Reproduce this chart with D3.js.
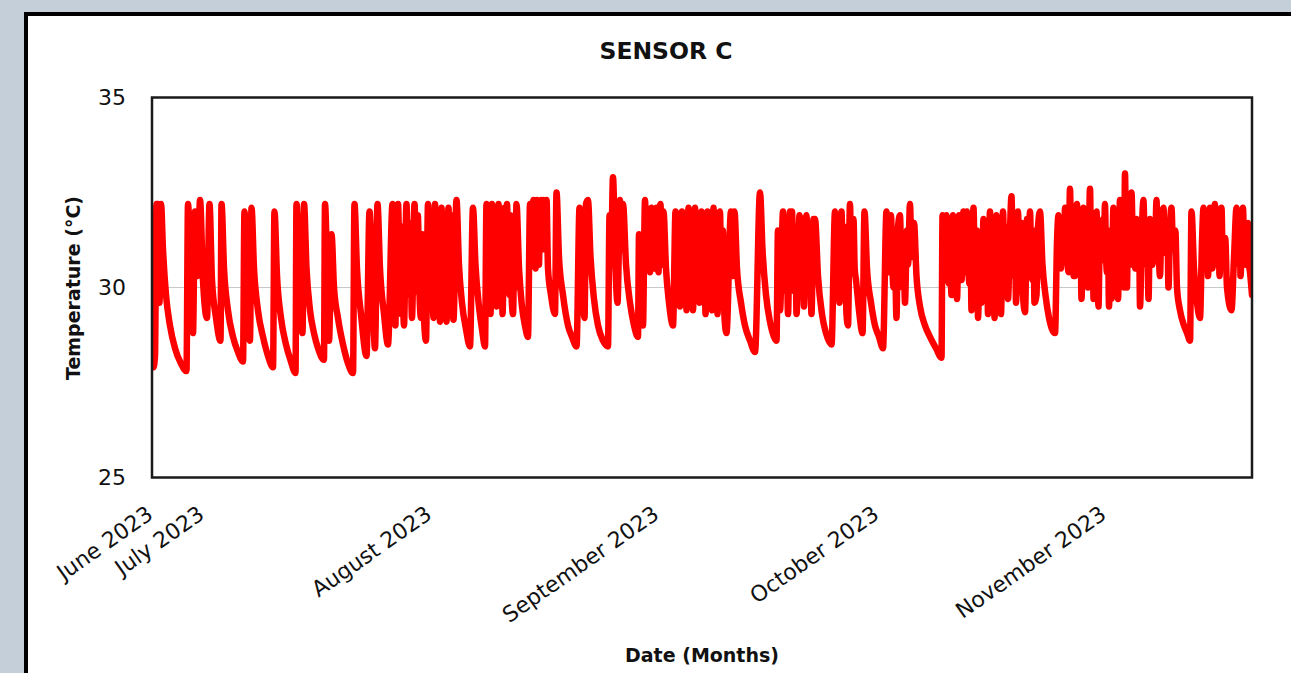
<!DOCTYPE html>
<html><head><meta charset="utf-8">
<script src="https://cdn.jsdelivr.net/npm/d3@7"></script>
<style>html,body{margin:0;padding:0;background:#c5cfd9;overflow:hidden} svg{display:block}</style>
</head><body>
<svg id="chart" width="1291" height="673"></svg>
<script>
// ---- data ----
const chartTitle = "SENSOR C";
const xTitle = "Date (Months)";
const yTitle = "Temperature (°C)";
const startDate = "2023-06-24";
const endDate = "2023-11-21";
const tickDates = ["2023-06-24","2023-07-01","2023-08-01","2023-09-01","2023-10-01","2023-11-01"];
const tickLabels = ["June 2023","July 2023","August 2023","September 2023","October 2023","November 2023"];
const yTicks = [25, 30, 35];
const yGrid = [30];
// [days since start, temperature °C]
const sensorC = [
[0.00,28.3],[0.20,27.9],[0.41,28.2],[0.61,32.2],[0.82,32.2],[1.02,29.6],[1.23,32.2],[1.50,31.0],[1.91,29.8],[2.45,29.0],[3.14,28.4],[3.95,28.0],[4.70,27.8],
[4.91,32.2],[5.32,29.8],[5.59,28.8],[5.86,32.0],[6.20,30.3],[6.55,32.3],[6.95,30.2],[7.50,29.2],[7.84,32.2],[8.18,30.2],[8.73,29.2],[9.34,28.6],
[9.48,32.2],[9.82,30.5],[10.36,29.4],[11.05,28.7],[11.73,28.3],[12.41,28.05],[12.61,32.0],[12.95,30.5],[13.36,28.6],[13.57,32.1],[13.91,30.5],[14.45,29.4],[15.14,28.7],[15.82,28.2],[16.50,27.9],
[16.70,32.0],[17.05,30.3],[17.59,29.2],[18.27,28.5],[18.95,28.05],[19.57,27.75],[19.70,32.2],[20.05,30.5],[20.52,28.8],[20.73,32.2],[21.07,30.5],[21.55,29.4],[22.09,28.8],[22.64,28.4],[23.45,28.1],
[23.59,32.2],[23.93,30.0],[24.14,28.6],[24.48,31.4],[24.82,30.0],[25.36,29.2],[26.05,28.5],[26.73,28.0],[27.41,27.75],[27.61,32.2],[27.95,30.5],[28.50,29.3],[29.25,28.2],
[29.66,32.0],[30.00,30.3],[30.41,28.4],[30.75,32.2],[31.09,30.5],[31.64,29.3],[32.18,28.5],
[32.80,32.2],[33.00,30.4],[33.20,29.0],[33.30,31.8],[33.45,30.2],[33.55,32.2],[33.75,30.4],[33.95,29.3],[34.10,31.6],[34.25,29.6],[34.36,29.0],
[34.70,32.2],[34.90,30.6],[35.11,29.8],[35.20,31.7],[35.35,29.9],[35.45,29.2],[35.80,32.2],[36.00,30.5],[36.14,29.9],[36.25,31.9],[36.45,30.0],[36.68,29.2],[36.85,31.4],[37.05,29.4],[37.36,28.6],
[37.64,32.2],[37.85,30.5],[38.05,29.8],[38.15,31.8],[38.30,29.6],[38.39,29.2],[38.59,32.2],[38.80,30.4],[39.00,29.8],[39.10,31.9],[39.27,29.1],[39.48,32.1],[39.65,30.4],[39.82,29.8],[39.92,31.7],[40.05,29.6],[40.16,29.1],
[40.43,32.1],[40.60,30.4],[40.77,29.9],[40.88,31.9],[41.00,29.7],[41.11,29.15],[41.52,32.3],[41.86,30.6],[42.27,29.6],[42.82,28.9],[43.36,28.45],
[43.77,32.1],[44.11,30.6],[44.59,29.5],[45.00,28.9],[45.41,28.45],
[45.61,32.2],[45.80,30.4],[45.95,29.6],[46.05,31.8],[46.16,29.3],[46.36,32.2],[46.55,30.5],[46.70,29.9],[46.80,31.9],[46.98,29.5],[47.25,32.2],[47.42,30.4],[47.59,29.8],[47.68,31.7],[47.80,29.3],
[48.07,32.1],[48.25,30.6],[48.41,32.2],[48.58,30.5],[48.75,29.8],[48.88,31.9],[49.05,29.7],[49.23,29.3],[49.45,31.6],[49.55,30.0],[49.70,32.2],[50.05,30.5],[50.45,29.5],[50.86,29.0],[51.27,28.7],
[51.55,32.2],[51.70,31.0],[51.82,30.6],[51.92,31.9],[52.02,32.3],[52.15,30.8],[52.30,30.5],[52.40,32.0],[52.50,32.3],[52.65,30.9],[52.77,30.6],[52.90,32.1],[53.05,32.3],[53.20,31.0],[53.30,31.8],[53.39,32.3],[53.50,31.2],[53.59,31.0],[53.80,32.3],
[54.00,30.5],[54.41,29.8],[54.95,29.3],[55.16,32.5],[55.50,30.8],[56.05,29.8],[56.73,29.0],[57.27,28.7],[57.89,28.45],
[58.30,32.1],[58.64,30.2],[58.98,29.2],[59.18,32.2],[59.45,32.3],[59.80,30.8],[60.27,29.7],[60.82,29.0],[61.50,28.6],[62.18,28.45],[62.39,31.9],[62.59,30.6],[62.86,32.9],[63.20,30.5],
[63.48,29.6],[63.82,32.3],[64.00,31.0],[64.23,32.2],[64.64,30.6],[65.18,29.6],[65.73,29.0],[66.27,28.7],[66.41,31.4],[66.68,30.2],[66.95,29.0],
[67.23,32.3],[67.40,31.0],[67.57,30.6],[67.68,32.0],[67.80,30.7],[67.91,30.4],[68.11,32.1],[68.28,30.8],[68.45,30.5],[68.58,32.0],[68.73,32.1],[68.90,30.7],[69.07,30.4],[69.20,32.0],[69.34,32.2],[69.48,30.9],[69.61,30.6],[69.75,32.0],
[70.09,30.5],[70.50,29.6],[71.05,29.0],
[71.39,32.0],[71.55,30.4],[71.73,29.9],[71.82,31.8],[72.00,29.5],[72.27,32.0],[72.45,30.3],[72.61,29.9],[72.70,31.7],[72.89,29.4],[73.16,32.1],[73.33,30.4],[73.50,29.8],[73.60,31.9],[73.77,29.4],
[74.05,32.1],[74.22,30.4],[74.39,29.9],[74.50,31.8],[74.66,29.6],[74.93,32.0],[75.08,30.5],[75.20,29.9],[75.30,31.7],[75.48,29.3],[75.75,32.0],[75.92,30.4],[76.09,29.9],[76.20,31.8],[76.36,29.4],
[76.57,32.1],[76.75,30.5],[76.91,29.9],[77.00,31.6],[77.11,29.3],[77.45,32.0],[77.60,30.6],[77.73,30.2],[77.85,31.5],[78.07,29.2],[78.34,28.8],
[78.95,32.0],[79.23,30.3],[79.43,32.0],[79.77,30.5],[80.32,29.6],[80.86,29.0],[81.55,28.6],[82.23,28.3],
[82.91,32.5],[83.25,31.0],[83.73,29.8],[84.27,29.1],[84.82,28.7],[85.16,28.6],
[85.36,31.5],[85.50,30.0],[85.64,29.4],[86.05,32.0],[86.22,30.5],[86.39,29.9],[86.50,31.7],[86.73,29.3],[87.00,32.0],[87.14,30.8],[87.27,32.0],[87.45,30.5],[87.61,29.9],[87.72,31.6],[87.89,29.3],
[88.30,31.9],[88.47,30.6],[88.64,30.0],[88.75,31.8],[88.91,29.5],[89.25,31.9],[89.42,30.5],[89.59,29.9],[89.70,31.7],[89.93,29.3],[90.20,31.8],[90.30,30.9],[90.41,31.8],
[90.82,30.3],[91.36,29.3],[91.91,28.8],[92.66,28.5],
[93.14,32.0],[93.30,30.6],[93.48,30.0],[93.58,31.8],[93.75,29.6],[94.02,32.0],[94.20,30.5],[94.36,29.9],[94.48,31.6],[94.70,29.3],[94.91,29.0],[95.18,32.2],[95.32,30.9],[95.45,30.5],[95.66,31.8],[95.82,30.5],[96.00,30.2],
[96.41,29.4],[96.89,28.8],
[97.16,32.0],[97.50,30.5],[98.05,29.6],[98.59,29.0],[99.14,28.7],[99.68,28.4],
[100.16,32.0],[100.30,30.8],[100.43,30.4],[100.55,31.6],[100.77,31.9],[100.95,30.6],[101.11,30.0],[101.25,31.5],[101.52,29.2],[101.73,31.6],[102.00,31.9],[102.17,30.6],[102.34,30.0],[102.45,31.4],[102.68,29.6],
[102.95,31.5],[103.10,30.6],[103.36,32.2],[103.55,31.0],[103.70,30.8],[103.91,31.7],[104.25,30.3],[104.73,29.5],[105.41,29.0],[106.09,28.7],[106.91,28.4],[107.66,28.15],
[107.80,31.9],[107.97,30.5],[108.14,30.2],[108.34,31.9],[108.50,30.5],[108.68,30.1],[108.80,31.6],[109.02,29.8],[109.23,31.9],[109.40,30.5],[109.57,30.0],[109.65,31.5],[109.77,29.7],
[110.05,31.9],[110.22,30.6],[110.39,30.2],[110.66,32.0],[110.83,30.6],[111.00,30.4],[111.14,32.0],[111.30,30.6],[111.48,30.1],[111.60,31.6],[111.75,29.4],[112.02,32.1],[112.20,30.5],[112.36,30.0],[112.48,31.5],[112.64,29.2],
[112.91,31.2],[113.11,29.6],[113.39,31.8],[113.55,30.5],[113.73,30.0],[113.85,31.5],[114.00,29.3],[114.27,32.0],[114.45,30.5],[114.61,30.0],[114.72,31.6],[114.89,29.2],
[115.16,31.9],[115.33,30.5],[115.50,30.0],[115.60,31.6],[115.77,29.3],[116.05,32.0],[116.22,30.6],[116.39,30.2],[116.55,31.6],[116.73,29.7],[117.00,31.5],[117.20,32.4],[117.38,30.8],[117.55,30.3],[117.68,31.7],[117.82,29.6],
[118.09,32.0],[118.25,30.6],[118.43,30.2],[118.58,31.7],[118.77,29.8],[119.05,29.35],[119.32,31.8],[119.50,30.8],[119.73,32.0],[119.90,30.6],[120.07,30.2],[120.20,31.5],[120.34,29.6],[120.61,29.8],[120.82,31.6],
[121.09,32.0],[121.43,30.6],[121.84,29.8],[122.32,29.2],[122.73,28.9],[123.14,28.8],
[123.41,31.2],[123.61,31.9],[123.78,30.6],[123.95,30.5],[124.08,31.6],[124.23,31.5],[124.36,30.7],[124.50,32.1],[124.65,30.9],[124.77,30.8],[124.98,30.4],[125.18,32.6],[125.35,31.2],[125.52,31.2],[125.68,30.3],[125.86,30.3],
[126.00,31.8],[126.14,32.2],[126.30,30.8],[126.48,30.5],[126.60,31.6],[126.75,29.7],[127.02,32.1],[127.18,30.8],[127.36,30.6],[127.50,31.7],[127.64,30.0],[127.91,32.6],[128.05,31.0],[128.18,30.6],[128.28,31.5],[128.39,29.7],
[128.60,31.6],[128.80,32.0],[128.95,30.4],[129.07,29.5],[129.25,31.3],[129.41,30.7],[129.68,31.8],[129.80,30.9],[129.95,32.2],[130.10,30.8],[130.23,30.4],[130.35,31.5],[130.50,29.5],[130.70,31.2],[130.84,29.7],
[131.11,32.1],[131.28,30.8],[131.45,30.5],[131.58,31.6],[131.73,29.7],[132.00,32.3],[132.17,31.2],[132.34,31.0],[132.45,31.9],[132.55,30.0],[132.68,33.0],[132.82,31.0],[132.95,30.0],[133.10,31.9],[133.23,31.5],
[133.40,30.6],[133.57,32.5],[133.75,31.3],[133.91,31.2],[134.08,30.5],[134.25,31.8],[134.35,31.0],[134.45,30.5],[134.60,31.4],[134.73,29.5],[135.00,31.6],[135.20,32.3],[135.38,30.9],[135.55,30.6],[135.70,31.5],[135.89,29.7],
[136.09,31.8],[136.25,30.8],[136.43,30.6],[136.60,31.6],[136.77,31.0],[136.98,32.3],[137.12,31.2],[137.25,31.0],[137.45,30.3],[137.65,31.7],[137.93,32.1],[138.10,31.0],[138.27,30.9],[138.45,31.7],[138.61,30.0],
[138.82,31.6],[139.02,32.1],[139.20,31.2],[139.36,31.0],[139.55,31.5],[139.77,30.0],[140.18,29.4],[140.73,29.0],[141.14,28.8],[141.55,28.6],
[141.75,32.0],[142.09,30.5],[142.50,29.6],[142.91,29.2],
[143.18,31.2],[143.39,32.1],[143.55,30.9],[143.73,30.6],[143.86,31.8],[144.00,30.3],[144.27,32.1],[144.45,30.8],[144.61,30.5],[144.78,31.7],[144.95,32.2],[145.12,30.9],[145.30,30.6],[145.45,31.6],[145.57,30.3],
[145.84,32.1],[146.00,30.9],[146.18,30.8],[146.35,31.3],[146.59,30.0],[147.20,29.4],
[147.55,30.8],[147.89,32.1],[148.05,30.9],[148.23,30.6],[148.35,31.7],[148.43,30.3],[148.77,32.1],[148.95,30.8],[149.11,30.6],[149.30,31.6],[149.45,31.7],[149.60,30.6],[149.73,30.4],[150.00,29.8]
];

// ---- layout ----
const W = 1291, H = 673;
const plot = {left: 152, right: 1252, top: 97.5, bottom: 477.5};
const FONT = "'DejaVu Sans', Verdana, sans-serif";
const parse = d3.timeParse("%Y-%m-%d");
const t0 = parse(startDate);
const pts = sensorC.map(([d, v]) => ({date: new Date(t0.getTime() + d * 86400000), value: v}));

const svg = d3.select("#chart");
svg.append("rect").attr("x", 0).attr("y", 0).attr("width", W).attr("height", H).attr("fill", "#c5cfd9");
svg.append("rect").attr("x", 26).attr("y", 14).attr("width", W + 40).attr("height", H + 40)
  .attr("fill", "#ffffff").attr("stroke", "#000").attr("stroke-width", 4);

const x = d3.scaleTime().domain([parse(startDate), parse(endDate)]).range([plot.left, plot.right]);
const y = d3.scaleLinear().domain([25, 35]).range([plot.bottom, plot.top]);

// grid
svg.append("g").selectAll("line").data(yGrid).join("line")
  .attr("x1", plot.left).attr("x2", plot.right)
  .attr("y1", d => y(d)).attr("y2", d => y(d))
  .attr("stroke", "#c8c8c8").attr("stroke-width", 1);

// line
svg.append("clipPath").attr("id", "clip").append("rect")
  .attr("x", plot.left).attr("y", plot.top).attr("width", plot.right - plot.left).attr("height", plot.bottom - plot.top);
const line = d3.line().x(d => x(d.date)).y(d => y(d.value)).curve(d3.curveMonotoneX);
svg.append("path").datum(pts).attr("d", line)
  .attr("fill", "none").attr("stroke", "#ff0000").attr("stroke-width", 6.5)
  .attr("stroke-linejoin", "round").attr("stroke-linecap", "round")
  .attr("clip-path", "url(#clip)");

// frame
svg.append("rect").attr("x", plot.left).attr("y", plot.top)
  .attr("width", plot.right - plot.left).attr("height", plot.bottom - plot.top)
  .attr("fill", "none").attr("stroke", "#1a1a1a").attr("stroke-width", 2.5);

// y axis
const yAxis = d3.axisLeft(y).tickValues(yTicks).tickSize(0).tickPadding(26).tickFormat(d3.format("d"));
const gy = svg.append("g").attr("transform", `translate(${plot.left},0)`).call(yAxis);
gy.select(".domain").remove();
gy.selectAll("text").attr("font-family", FONT).attr("font-size", 22).attr("fill", "#111");

// x axis
const xAxis = d3.axisBottom(x).tickValues(tickDates.map(parse)).tickSize(0)
  .tickFormat((d, i) => tickLabels[i]);
const gx = svg.append("g").attr("transform", `translate(0,${plot.bottom})`).call(xAxis);
gx.select(".domain").remove();
gx.selectAll(".tick text")
  .attr("font-family", FONT).attr("font-size", 22).attr("fill", "#111")
  .attr("text-anchor", "end").attr("x", 0).attr("y", 0).attr("dy", 0)
  .attr("transform", "translate(2,40) rotate(-35)");

// titles
svg.append("text").attr("x", 666).attr("y", 59).attr("text-anchor", "middle")
  .attr("font-family", FONT).attr("font-weight", "bold").attr("font-size", 23.5)
  .attr("fill", "#111").text(chartTitle);
svg.append("text").attr("x", 702).attr("y", 662).attr("text-anchor", "middle")
  .attr("font-family", FONT).attr("font-weight", "bold").attr("font-size", 19)
  .attr("fill", "#111").text(xTitle);
svg.append("text").attr("transform", "translate(80,288) rotate(-90)").attr("text-anchor", "middle")
  .attr("font-family", FONT).attr("font-weight", "bold").attr("font-size", 19)
  .attr("fill", "#111").text(yTitle);
</script>
</body></html>
